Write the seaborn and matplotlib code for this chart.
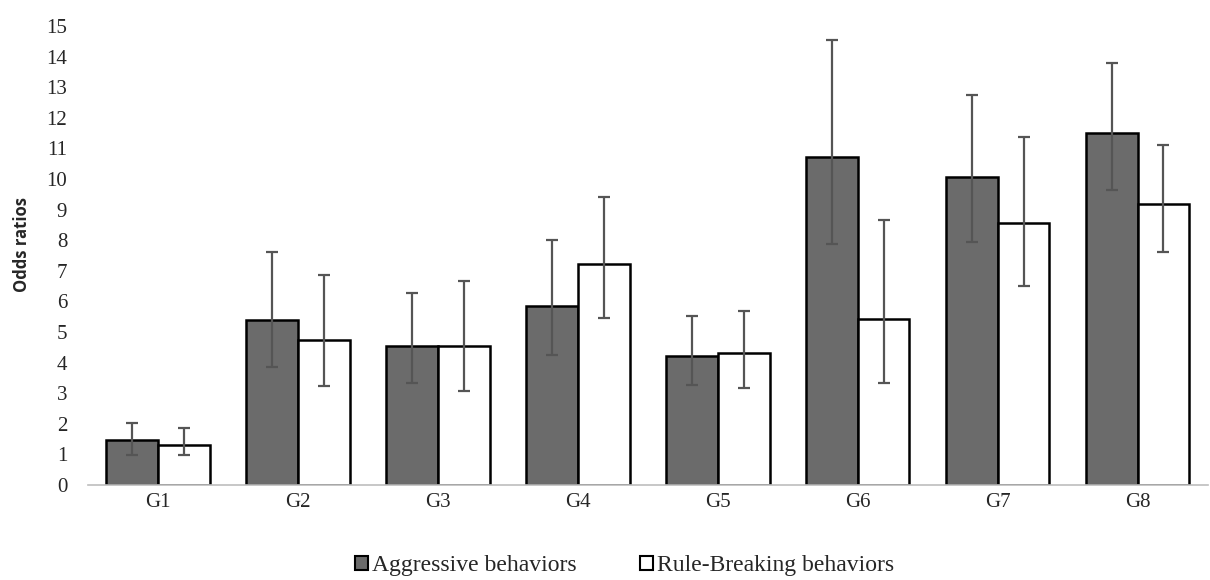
import pandas as pd
import numpy as np
import seaborn as sns
import matplotlib.pyplot as plt

groups = ["G1", "G2", "G3", "G4", "G5", "G6", "G7", "G8"]

# odds ratios and confidence limits
aggr_or = [1.47, 5.39, 4.54, 5.86, 4.23, 10.71, 10.06, 11.51]
aggr_lo = [0.98, 3.85, 3.32, 4.25, 3.27, 7.87, 7.95, 9.64]
aggr_hi = [2.04, 7.60, 6.28, 8.00, 5.53, 14.54, 12.75, 13.81]

rule_or = [1.31, 4.74, 4.54, 7.21, 4.32, 5.42, 8.58, 9.17]
rule_lo = [0.98, 3.25, 3.08, 5.47, 3.16, 3.33, 6.51, 7.60]
rule_hi = [1.85, 6.86, 6.68, 9.40, 5.70, 8.66, 11.36, 11.11]

labels = ["Aggressive behaviors", "Rule-Breaking behaviors"]

df = pd.DataFrame({
    "group": groups * 2,
    "odds": aggr_or + rule_or,
    "type": [labels[0]] * 8 + [labels[1]] * 8,
})

sns.set_style("white")
plt.rcParams["font.family"] = ["Liberation Serif", "DejaVu Serif"]

fig = plt.figure(figsize=(12.1, 5.8), dpi=100)
ax = fig.add_axes([0.0727, 0.1638, 0.9253, 0.7912])

sns.barplot(data=df, x="group", y="odds", hue="type", order=groups,
            palette={labels[0]: "#6b6b6b", labels[1]: "white"},
            edgecolor="black", linewidth=1.8, width=0.74,
            errorbar=None, ax=ax)

# error bars on top of the bars
lows = [aggr_lo, rule_lo]
highs = [aggr_hi, rule_hi]
vals = [aggr_or, rule_or]
bar_conts = list(ax.containers)
for i, cont in enumerate(bar_conts):
    xs = [p.get_x() + p.get_width() / 2 for p in cont.patches]
    y = np.array(vals[i])
    err = [y - np.array(lows[i]), np.array(highs[i]) - y]
    ax.errorbar(xs, y, yerr=err, fmt="none", ecolor="#555555",
                elinewidth=1.6, capsize=4.5, capthick=1.6, zorder=5)

ax.set_xlim(-0.5, len(groups) - 0.5)
ax.set_ylim(0, 15)
ax.set_yticks(range(0, 16))
ax.set_xlabel("")
ax.set_ylabel("Odds ratios", fontsize=12, fontweight="bold",
              family=["Open Sans", "DejaVu Sans"])
ax.yaxis.set_label_coords(-0.051, 0.525)
ax.tick_params(axis="both", length=0, labelsize=15)
ax.tick_params(axis="y", pad=15)
ax.tick_params(axis="x", pad=6)

for s in ["top", "right", "left"]:
    ax.spines[s].set_visible(False)
ax.spines["bottom"].set_color("#bdbdbd")
ax.spines["bottom"].set_linewidth(1.2)

handles, lbls = ax.get_legend_handles_labels()
ax.get_legend().remove()
for h in handles:
    h.set_edgecolor("black")
    h.set_linewidth(1.5)
fig.legend(handles, lbls, loc="center", bbox_to_anchor=(0.516, 0.025),
           ncol=2, frameon=False, fontsize=17, handlelength=0.55,
           handleheight=0.55, handletextpad=0.15, columnspacing=2.7)

fig.savefig("out.png", dpi=100)
